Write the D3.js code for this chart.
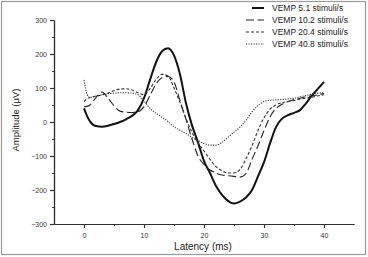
<!DOCTYPE html>
<html>
<head>
<meta charset="utf-8">
<script src="https://cdn.jsdelivr.net/npm/d3@7"></script>
<style>
  body { margin: 0; background: #fff; }
  svg { display: block; font-family: "Liberation Sans", Arial, sans-serif; }
</style>
</head>
<body>
<svg id="chart" width="368" height="257"></svg>
<script>
// latency in ms, shared by all four curves
let latency = [0, 0.5, 1, 2, 3, 4, 5, 6, 7, 8, 9, 10, 11, 12, 13, 14, 15, 16, 17, 18, 19, 20,
  21, 22, 23, 24, 25, 26, 27, 28, 29, 30, 31, 32, 33, 34, 35, 36, 37, 38, 39, 40];

let vemp51 = [40, 18, 2, -12, -14, -11, -6, 0, 8, 18, 35, 70, 124, 175, 208, 217, 196, 140, 55, -10,
  -60, -115, -150, -188, -214, -232, -240, -234, -222, -200, -160, -118, -63, -15, 10, 20, 27,
  35, 55, 78, 98, 118];
let vemp102 = [45, 46, 50, 72, 88, 70, 48, 32, 29, 28, 30, 45, 78, 112, 130, 134, 118, 62, 8, -50,
  -100, -125, -141, -150, -156, -158, -160, -162, -152, -110, -70, -25, 15, 40, 52, 60, 66,
  70, 74, 77, 80, 84];
let vemp204 = [60, 68, 72, 76, 80, 85, 92, 97, 98, 94, 86, 80, 98, 125, 140, 136, 100, 58, 10, -30,
  -62, -85, -110, -131, -143, -150, -150, -140, -108, -70, -25, 12, 38, 50, 57, 60, 63, 67, 70,
  73, 77, 80];
let vemp408 = [124, 82, 72, 76, 80, 83, 85, 86, 86, 85, 80, 62, 40, 26, 14, 2, -14, -24, -34, -45,
  -55, -63, -68, -68, -60, -45, -30, -15, 5, 30, 48, 60, 64, 65, 66, 68, 70, 74, 78, 82, 85, 86];

let seriesNames = ["VEMP 5.1 stimuli/s", "VEMP 10.2 stimuli/s", "VEMP 20.4 stimuli/s", "VEMP 40.8 stimuli/s"];
let seriesValues = [vemp51, vemp102, vemp204, vemp408];

let xMajor = [0, 10, 20, 30, 40];
let xMinor = [5, 15, 25, 35];
let yMajor = [-300, -200, -100, 0, 100, 200, 300];
let yMinor = [-250, -150, -50, 50, 150, 250];

// line looks per series
let lineStyles = [
  { width: 2, dash: null, color: "#111" },
  { width: 1.1, dash: "8,3.5", color: "#222" },
  { width: 1.1, dash: "3,2", color: "#333" },
  { width: 1.1, dash: "1.2,1.3", color: "#333" },
];

let svg = d3.select("#chart");

// frame round the picture
svg.append("rect")
  .attr("x", 1.5).attr("y", 1.5)
  .attr("width", 364).attr("height", 253)
  .attr("fill", "none").attr("stroke", "#9a9a9a").attr("stroke-width", 1.2);

let x = d3.scaleLinear().domain([-5, 45]).range([54, 354]);
let y = d3.scaleLinear().domain([-300, 300]).range([224, 20]);

// y axis
let yAxis = svg.append("g").attr("transform", "translate(54,0)");
yAxis.call(d3.axisLeft(y).tickValues(yMajor).tickSize(4).tickSizeOuter(0).tickPadding(3));
yAxis.append("g").call(d3.axisLeft(y).tickValues(yMinor).tickSize(2).tickFormat("").tickSizeOuter(0));

// x axis
let xAxis = svg.append("g").attr("transform", "translate(0,224)");
xAxis.call(d3.axisBottom(x).tickValues(xMajor).tickSize(4).tickSizeOuter(0).tickPadding(5));
xAxis.append("g").call(d3.axisBottom(x).tickValues(xMinor).tickSize(2).tickFormat("").tickSizeOuter(0));

svg.selectAll(".domain").attr("stroke", "#333").attr("stroke-width", 1.2);
svg.selectAll(".tick line").attr("stroke", "#333").attr("stroke-width", 1.2);
svg.selectAll(".tick text").attr("font-size", 7).attr("fill", "#333")
  .attr("font-family", "\"Liberation Sans\", Arial, sans-serif");

// axis titles
svg.append("text")
  .attr("x", 203).attr("y", 250)
  .attr("text-anchor", "middle")
  .attr("font-size", 10).attr("fill", "#222")
  .text("Latency (ms)");

svg.append("text")
  .attr("transform", "translate(19,120) rotate(-90)")
  .attr("text-anchor", "middle")
  .attr("font-size", 9.5).attr("fill", "#222")
  .text("Amplitude (\u00b5V)");

// curves
let line = d3.line()
  .x((d, i) => x(latency[i]))
  .y(d => y(d))
  .curve(d3.curveMonotoneX);

seriesValues.forEach((values, index) => {
  let style = lineStyles[index];
  svg.append("path")
    .attr("d", line(values))
    .attr("fill", "none")
    .attr("stroke", style.color)
    .attr("stroke-width", style.width)
    .attr("stroke-dasharray", style.dash)
    .attr("stroke-linejoin", "round");
});

// legend
seriesNames.forEach((name, index) => {
  let style = lineStyles[index];
  let rowY = 8 + index * 12;
  svg.append("line")
    .attr("x1", index === 0 ? 252 : 246).attr("x2", 264)
    .attr("y1", rowY).attr("y2", rowY)
    .attr("stroke", style.color)
    .attr("stroke-width", style.width)
    .attr("stroke-dasharray", style.dash);
  svg.append("text")
    .attr("x", 272).attr("y", rowY + 3)
    .attr("font-size", 8.5).attr("fill", "#222")
    .text(name);
});
</script>
</body>
</html>
